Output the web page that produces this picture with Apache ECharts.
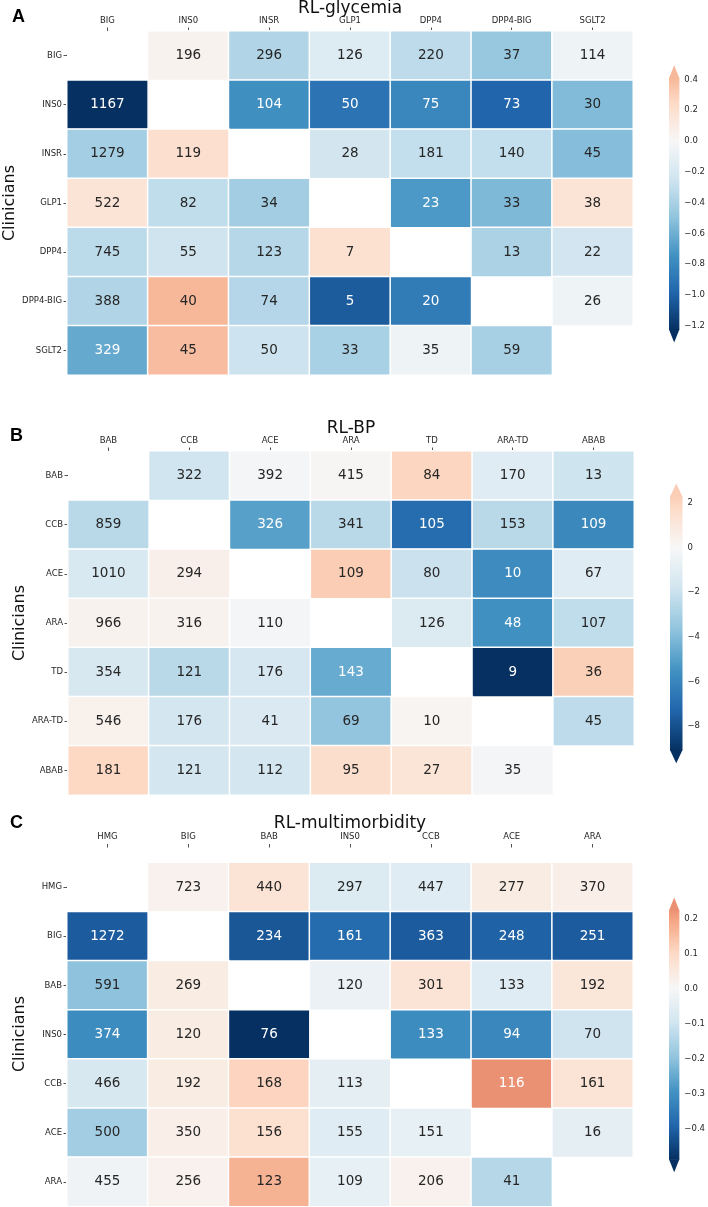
<!DOCTYPE html>
<html><head><meta charset="utf-8">
<script src="https://cdn.jsdelivr.net/npm/echarts@6/dist/echarts.min.js"></script>
<style>html,body{margin:0;padding:0;background:#fff}#c{width:708px;height:1207px}</style>
</head><body><div id="c"></div>
<script>
// ---------- DATA ----------
const labelsA = ['BIG','INS0','INSR','GLP1','DPP4','DPP4-BIG','SGLT2'];
const countsA = [
 [null,196,296,126,220,37,114],
 [1167,null,104,50,75,73,30],
 [1279,119,null,28,181,140,45],
 [522,82,34,null,23,33,38],
 [745,55,123,7,null,13,22],
 [388,40,74,5,20,null,26],
 [329,45,50,33,35,59,null]];
const valuesA = [
 [null,0.04,-0.37,-0.17,-0.32,-0.47,-0.06],
 [-1.228,null,-0.76,-0.91,-0.80,-0.98,-0.54],
 [-0.42,0.21,null,-0.23,-0.30,-0.30,-0.53],
 [0.17,-0.31,-0.43,null,-0.71,-0.55,0.17],
 [-0.33,-0.25,-0.35,0.20,null,-0.39,-0.24],
 [-0.37,0.41,-0.36,-1.03,-0.87,null,-0.06],
 [-0.63,0.38,-0.26,-0.40,-0.06,-0.41,null]];
const ticksA = [0.4,0.2,0.0,-0.2,-0.4,-0.6,-0.8,-1.0,-1.2];

const labelsB = ['BAB','CCB','ACE','ARA','TD','ARA-TD','ABAB'];
const countsB = [
 [null,322,392,415,84,170,13],
 [859,null,326,341,105,153,109],
 [1010,294,null,109,80,10,67],
 [966,316,110,null,126,48,107],
 [354,121,176,143,null,9,36],
 [546,176,41,69,10,null,45],
 [181,121,112,95,27,35,null]];
const valuesB = [
 [null,-1.8,-0.2,0.1,2.0,-1.1,-1.9],
 [-2.5,null,-5.0,-2.5,-7.0,-2.5,-5.9],
 [-1.45,0.5,null,2.3,-2.0,-5.8,-1.1],
 [0.3,0.3,-0.2,null,-1.3,-5.6,-2.3],
 [-1.5,-2.5,-1.6,-4.6,null,-9.1,2.2],
 [0.4,-1.7,-1.4,-3.6,0.2,null,-2.4],
 [1.9,-1.7,-1.7,1.6,1.2,-0.2,null]];
const ticksB = [2,0,-2,-4,-6,-8];

const labelsC = ['HMG','BIG','BAB','INS0','CCB','ACE','ARA'];
const countsC = [
 [null,723,440,297,447,277,370],
 [1272,null,234,161,363,248,251],
 [591,269,null,120,301,133,192],
 [374,120,76,null,133,94,70],
 [466,192,168,113,null,116,161],
 [500,350,156,155,151,null,16],
 [455,256,123,109,206,41,null]];
const valuesC = [
 [null,0.02,0.07,-0.07,-0.06,0.04,0.03],
 [-0.41,null,-0.42,-0.38,-0.41,-0.40,-0.41],
 [-0.20,0.04,null,-0.03,0.07,-0.06,0.06],
 [-0.31,0.04,-0.49,null,-0.31,-0.32,-0.10],
 [-0.08,0.04,0.11,-0.05,null,0.224,0.07],
 [-0.17,0.03,0.08,-0.06,-0.04,null,-0.05],
 [-0.02,0.02,0.17,-0.04,0.02,-0.14,null]];
const ticksC = [0.2,0.1,0.0,-0.1,-0.2,-0.3,-0.4];

const titles = ['RL-glycemia','RL-BP','RL-multimorbidity'];
const panelLetters = ['A','B','C'];
const yName = 'Clinicians';

// ---------- STYLE / LAYOUT ----------
const FONT = 'DejaVu Sans';
const TXT = '#262626';
const RDBU_R = ['#053061','#2166ac','#4393c3','#92c5de','#d1e5f0','#f7f7f7','#fddbc7','#f4a582','#d6604d','#b2182b','#67001f'];
const panels = [
  {labels:labelsA, counts:countsA, values:valuesA, ticks:ticksA, dec:1,
   grid:{left:67, top:31, width:566, height:344},
   cb:{left:669, top:77.8, height:252.2},
   title:{x:350, y:9}, letter:{x:12, y:17}, yname:{x:9.5, y:203}, xOffset:0},
  {labels:labelsB, counts:countsB, values:valuesB, ticks:ticksB, dec:0,
   grid:{left:68, top:451, width:566, height:344},
   cb:{left:670, top:496.3, height:254.2},
   title:{x:351, y:429}, letter:{x:10, y:436}, yname:{x:19.5, y:623}, xOffset:0},
  {labels:labelsC, counts:countsC, values:valuesC, ticks:ticksC, dec:1,
   grid:{left:67, top:862.5, width:566, height:344},
   cb:{left:669, top:909.9, height:249.9},
   title:{x:350, y:824}, letter:{x:10, y:823}, yname:{x:19.5, y:1034}, xOffset:15}
];

function hex2rgb(h){return [parseInt(h.slice(1,3),16),parseInt(h.slice(3,5),16),parseInt(h.slice(5,7),16)];}
function cmap(t){
  t = Math.max(0, Math.min(1, t));
  const s = t*10, i = Math.min(9, Math.floor(s)), f = s - i;
  const a = hex2rgb(RDBU_R[i]), b = hex2rgb(RDBU_R[i+1]);
  return [0,1,2].map(k => Math.round(a[k] + (b[k]-a[k])*f));
}
function rgbStr(c){return 'rgb('+c[0]+','+c[1]+','+c[2]+')';}
function lum(c){
  const l = c.map(v => {v/=255; return v <= 0.03928 ? v/12.92 : Math.pow((v+0.055)/1.055, 2.4);});
  return 0.2126*l[0] + 0.7152*l[1] + 0.0722*l[2];
}

const option = {
  animation:false, backgroundColor:'#fff',
  grid:[], xAxis:[], yAxis:[], series:[], visualMap:[], graphic:[]
};

panels.forEach((p, k) => {
  const flat = p.values.flat().filter(v => v !== null);
  const vmin = Math.min(...flat), vmax = Math.max(...flat);
  const R = Math.max(Math.abs(vmin), Math.abs(vmax));
  const col = v => cmap(0.5 + v/(2*R));
  const data = [];
  p.values.forEach((row, i) => row.forEach((v, j) => {
    if (v === null) return;
    data.push({value:[j, i, v, p.counts[i][j]],
      label:{color: lum(col(v)) > 0.408 ? TXT : '#ffffff'}});
  }));
  // heatmap grid
  option.grid.push(Object.assign({containLabel:false}, p.grid));
  const gi = option.grid.length - 1;
  option.xAxis.push({type:'category', gridIndex:gi, data:p.labels, position:'top', offset:p.xOffset,
    axisLine:{show:false}, splitLine:{show:false},
    axisTick:{show:true, alignWithLabel:true, length:3.5, lineStyle:{color:TXT, width:0.8}},
    axisLabel:{fontFamily:FONT, fontSize:8.5, color:TXT, margin:6, interval:0}});
  option.yAxis.push({type:'category', gridIndex:gi, data:p.labels, inverse:true,
    axisLine:{show:false}, splitLine:{show:false},
    axisTick:{show:true, alignWithLabel:true, length:3.5, lineStyle:{color:TXT, width:0.8}},
    axisLabel:{fontFamily:FONT, fontSize:8.5, color:TXT, margin:5, interval:0}});
  option.series.push({type:'heatmap', xAxisIndex:option.xAxis.length-1, yAxisIndex:option.yAxis.length-1,
    data:data, itemStyle:{borderColor:'#fff', borderWidth:1.5},
    label:{show:true, fontFamily:FONT, fontSize:13.5, formatter: pr => String(pr.value[3])},
    emphasis:{disabled:true}});
  option.visualMap.push({type:'continuous', show:false, seriesIndex:option.series.length-1,
    dimension:2, min:-R, max:R, inRange:{color:RDBU_R}});

  // colorbar grid
  option.grid.push({left:p.cb.left, top:p.cb.top, width:12.5, height:p.cb.height});
  const ci = option.grid.length - 1;
  option.xAxis.push({type:'value', gridIndex:ci, min:0, max:1, show:false});
  const fmt = v => {
    const s = Math.abs(v).toFixed(p.dec);
    return (v < -1e-9 ? '\u2212' : '') + s;
  };
  option.yAxis.push({type:'value', gridIndex:ci, min:vmin, max:vmax, position:'right',
    axisLine:{show:false}, splitLine:{show:false},
    axisTick:{show:true, length:3.5, customValues:p.ticks, lineStyle:{color:TXT, width:0.8}},
    axisLabel:{show:true, customValues:p.ticks, formatter:fmt, fontFamily:FONT, fontSize:8.5, color:TXT, margin:5}});
  option.series.push({type:'custom', xAxisIndex:option.xAxis.length-1, yAxisIndex:option.yAxis.length-1,
    data:[[0, vmin, vmax]], clip:false, silent:true,
    renderItem:(params, api) => {
      const p0 = api.coord([0, vmax]), p1 = api.coord([1, vmin]);
      const x0 = p0[0], x1 = p1[0], yT = p0[1], yB = p1[1];
      const N = 64, stops = [];
      for (let n = 0; n <= N; n++) {
        const v = vmax - (vmax - vmin)*n/N;
        stops.push({offset:n/N, color:rgbStr(col(v))});
      }
      const ah = 0.05*(yB - yT);
      return {type:'group', children:[
        {type:'rect', shape:{x:x0, y:yT, width:x1-x0, height:yB-yT},
         style:{fill:new echarts.graphic.LinearGradient(0,0,0,1,stops)}},
        {type:'polygon', shape:{points:[[x0,yT+0.5],[x1,yT+0.5],[(x0+x1)/2,yT-ah]]}, style:{fill:rgbStr(col(vmax))}},
        {type:'polygon', shape:{points:[[x0,yB-0.5],[x1,yB-0.5],[(x0+x1)/2,yB+ah]]}, style:{fill:rgbStr(col(vmin))}}
      ]};
    }});

  // texts
  option.graphic.push({type:'text', x:p.title.x, y:p.title.y, silent:true,
    style:{text:titles[k], textAlign:'center', textVerticalAlign:'middle', font:'17px "'+FONT+'"', fill:'#111'}});
  option.graphic.push({type:'text', x:p.letter.x, y:p.letter.y, silent:true,
    style:{text:panelLetters[k], textAlign:'left', textVerticalAlign:'middle', font:'bold 18px "Liberation Sans"', fill:'#000'}});
  option.graphic.push({type:'text', x:p.yname.x, y:p.yname.y, rotation:Math.PI/2, silent:true,
    style:{text:yName, textAlign:'center', textVerticalAlign:'middle', font:'16px "'+FONT+'"', fill:'#111'}});
});

const chart = echarts.init(document.getElementById('c'), null, {renderer:'canvas'});
chart.setOption(option);
</script>
</body></html>
